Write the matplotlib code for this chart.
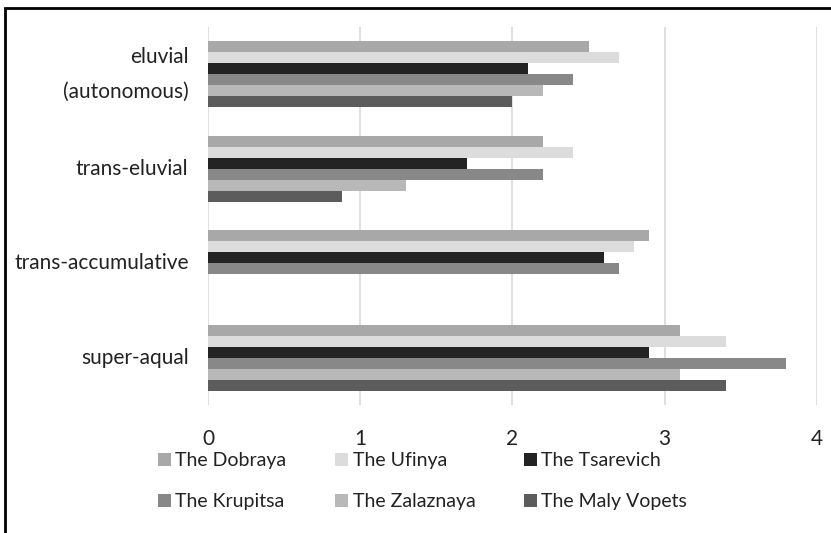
import numpy as np
import matplotlib.pyplot as plt
from matplotlib.patches import Rectangle

categories = ['eluvial\n(autonomous)', 'trans-eluvial', 'trans-accumulative', 'super-aqual']
series = ['The Dobraya', 'The Ufinya', 'The Tsarevich', 'The Krupitsa', 'The Zalaznaya', 'The Maly Vopets']
colors = ['#a8a8a8', '#dcdcdc', '#232323', '#888888', '#b8b8b8', '#5c5c5c']

dobraya = [2.5, 2.2, 2.9, 3.1]
ufinya = [2.7, 2.4, 2.8, 3.4]
tsarevich = [2.1, 1.7, 2.6, 2.9]
krupitsa = [2.4, 2.2, 2.7, 3.8]
zalaznaya = [2.2, 1.3, 0, 3.1]
maly_vopets = [2.0, 0.88, 0, 3.4]
values = [dobraya, ufinya, tsarevich, krupitsa, zalaznaya, maly_vopets]

plt.rcParams['font.family'] = ['Lato', 'DejaVu Sans']

fig = plt.figure(figsize=(8.31, 5.33), dpi=100)
ax = fig.add_axes([0.2503, 0.240, 0.7327, 0.709])

y = np.arange(len(categories))
group = 0.7
h = group / len(series)
for i, (name, vals) in enumerate(zip(series, values)):
    offs = -group / 2 + h * (i + 0.5)
    ax.barh(y + offs, vals, height=h, color=colors[i], label=name)

ax.set_ylim(len(categories) - 0.5, -0.5)
ax.set_xlim(0, 4)
ax.set_xticks([0, 1, 2, 3, 4])
ax.set_yticks(y)
ax.set_yticklabels(categories, fontsize=15, color='#222222', linespacing=1.9)
for lab in ax.get_yticklabels():
    lab.set_va('center')
ax.tick_params(axis='x', length=0, pad=17, labelsize=15, labelcolor='#222222')
ax.tick_params(axis='y', length=0, pad=14)
ax.grid(axis='x', color='#d9d9d9', linewidth=1.2)
ax.set_axisbelow(True)
for s in ax.spines.values():
    s.set_visible(False)

handles, labels = ax.get_legend_handles_labels()
order = [0, 3, 1, 4, 2, 5]
fig.legend([handles[k] for k in order], [labels[k] for k in order],
           ncol=3, loc='upper left', bbox_to_anchor=(0.190, 0.152),
           frameon=False, fontsize=14, handlelength=0.65, handleheight=0.65,
           handletextpad=0.25, columnspacing=2.5, labelspacing=1.25,
           borderaxespad=0, borderpad=0, labelcolor='#222222')

fig.patches.append(Rectangle((5 / 831, -0.1), 1.2, 1.1 - 8 / 533,
                             transform=fig.transFigure, fill=False,
                             edgecolor='black', linewidth=2))

fig.savefig('out.png', dpi=100)
